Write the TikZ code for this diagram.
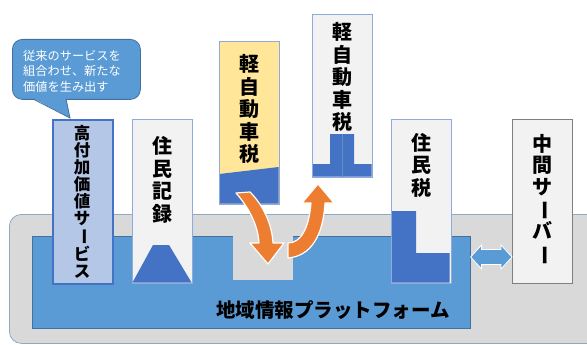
\documentclass[tikz,border=0pt]{standalone}
\usepackage{fontspec}
\usepackage{graphicx}
\newfontfamily\jp{Noto Sans CJK JP}
\definecolor{grayfill}{HTML}{D9D9D9}
\definecolor{grayedge}{HTML}{8EA9C8}
\definecolor{midblue}{HTML}{5B9BD5}
\definecolor{midedge}{HTML}{41719C}
\definecolor{darkblue}{HTML}{4472C4}
\definecolor{paper}{HTML}{F2F2F2}
\definecolor{paleedge}{HTML}{8FAADC}
\definecolor{yellowfill}{HTML}{FFE699}
\definecolor{lightblue}{HTML}{B4C7E7}
\definecolor{orangefill}{HTML}{ED7D31}
\definecolor{serveredge}{HTML}{7F7F7F}
\newcommand{\vbar}{\rotatebox[origin=c]{-90}{ー}}
\tikzset{
  panel/.style={draw=paleedge, line width=0.8pt, fill=paper, minimum width=60pt, inner sep=0pt},
  vlabel/.style={font=\jp\bfseries\fontsize{20}{22.5}\selectfont, align=center, inner sep=0pt},
  orangearrow/.style={fill=orangefill, draw=white, line width=1.2pt, line join=round},
}
\begin{document}
\begin{tikzpicture}[x=1pt, y=-1pt]
\useasboundingbox (0,0) rectangle (587,345);
% platform layers
\node[draw=grayedge, line width=0.8pt, fill=grayfill, rounded corners=12pt, minimum width=591pt, minimum height=129pt, inner sep=0pt, anchor=north west] (outer) at (9,214) {};
\node[draw=midedge, line width=0.6pt, fill=midblue, minimum width=438pt, minimum height=92pt, inner sep=0pt, anchor=north west] (platform) at (32,236) {};
\node[fill=grayfill, minimum width=60pt, minimum height=44pt, inner sep=0pt, anchor=north west] (slot) at (233,236) {};
\node[font=\jp\bfseries\fontsize{19.5}{22}\selectfont, inner sep=0pt] (ptext) at (333,310) {地域情報プラットフォーム};
% callout
\node[draw=midedge, line width=0.8pt, fill=midblue, rounded corners=10pt, minimum width=128pt, minimum height=60pt, inner sep=0pt, anchor=north west] (callout) at (12,39) {};
\fill[midblue] (33,98.2) -- (70,118) -- (66,98.2) -- cycle;
\draw[midedge, line width=0.8pt] (33,99) -- (70,118) -- (66,99);
\node[font=\jp\fontsize{12.2}{15.5}\selectfont, text=white, align=left, inner sep=0pt] (ctext) at (72,71) {従来のサービスを\\組合わせ、新たな\\価値を生み出す};
% 高付加価値サービス
\node[panel, draw=darkblue, line width=1.8pt, fill=lightblue, minimum height=164pt, anchor=north west] (kofuka) at (52,119) {};
\node[vlabel, font=\jp\bfseries\fontsize{16.5}{16.9}\selectfont] (kofukat) at (82,202) {高\\付\\加\\価\\値\\サ\\\vbar\\ビ\\ス};
% 住民記録
\node[panel, minimum height=164pt, anchor=north west] (jumin) at (132,119) {};
\fill[darkblue] (132.5,282.5) -- (153,245) -- (169,245) -- (191.5,282.5) -- cycle;
\draw[paleedge, line width=0.8pt] (jumin.south west) rectangle (jumin.north east);
\node[vlabel] (jumint) at (162,180) {住\\民\\記\\録};
% 軽自動車税 (yellow)
\node[panel, fill=yellowfill, minimum height=163pt, anchor=north west] (kei1) at (219,41) {};
\fill[darkblue] (219.4,174) -- (278.6,167) -- (278.6,203.6) -- (219.4,203.6) -- cycle;
\draw[paleedge, line width=0.8pt] (kei1.south west) rectangle (kei1.north east);
\node[vlabel] (kei1t) at (249,109) {軽\\自\\動\\車\\税};
% 軽自動車税 (upper)
\node[panel, minimum height=163pt, anchor=north west] (kei2) at (312,14) {};
\fill[darkblue] (330,134) -- (354,134) -- (354,164) -- (371.6,164) -- (371.6,176.6) -- (312.4,176.6) -- (312.4,164) -- (330,164) -- cycle;
\draw[midedge!80, line width=0.5pt] (342,134) -- (342,176.6);
\draw[paleedge, line width=0.8pt] (kei2.south west) rectangle (kei2.north east);
\node[vlabel] (kei2t) at (342,77) {軽\\自\\動\\車\\税};
% 住民税
\node[panel, minimum height=164pt, anchor=north west] (juminzei) at (391,119) {};
\fill[darkblue] (391.4,211) -- (416,211) -- (416,253) -- (449.6,253) -- (449.6,282.6) -- (391.4,282.6) -- cycle;
\draw[paleedge, line width=0.8pt] (juminzei.south west) rectangle (juminzei.north east);
\node[vlabel] (juminzeit) at (421,165) {住\\民\\税};
% 中間サーバー
\node[panel, draw=serveredge, line width=1.4pt, minimum height=164pt, anchor=north west] (server) at (512,119) {};
\node[vlabel, font=\jp\bfseries\fontsize{20}{21.3}\selectfont] (servert) at (542,200) {中\\間\\サ\\\vbar\\バ\\\vbar};
% double arrow between platform and server
\coordinate (la) at (platform.east |- 0,257);
\coordinate (ra) at (server.west |- 0,257);
\path[fill=midblue, draw=white, line width=0.8pt, line join=miter]
  (la) -- ([shift={(11,-12)}]la) -- ([shift={(11,-7.5)}]la) -- ([shift={(-11,-7.5)}]ra)
  -- ([shift={(-11,-12)}]ra) -- (ra) -- ([shift={(-11,12)}]ra) -- ([shift={(-11,7.5)}]ra)
  -- ([shift={(11,7.5)}]la) -- ([shift={(11,12)}]la) -- cycle;
% orange arrows
\path[orangearrow] (236,193) -- (250,192)
  .. controls (263,205) and (272,224) .. (273,243)
  -- (284,243) -- (268,264) -- (250,243) -- (259,243)
  .. controls (258,226) and (250,209) .. (236,193) -- cycle;
\path[orangearrow] (288,258)
  .. controls (311,256) and (323,236) .. (325,203)
  -- (334,203) -- (318,184) -- (302,203) -- (311,203)
  .. controls (309,228) and (301,243) .. (288,243) -- cycle;
\end{tikzpicture}
\end{document}
